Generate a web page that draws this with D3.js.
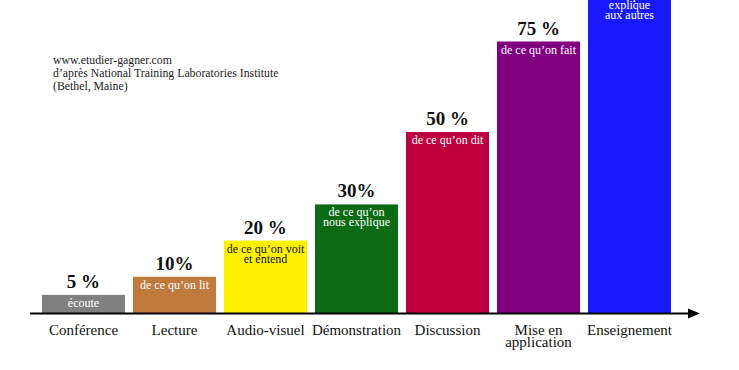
<!DOCTYPE html>
<html>
<head>
<meta charset="utf-8">
<script src="https://cdn.jsdelivr.net/npm/d3@7"></script>
<style>
  body { margin: 0; background: #fff; }
  svg { display: block; font-family: "Liberation Serif", "Times New Roman", serif; }
</style>
</head>
<body>
<div id="chart-area"></div>
<script>
var categories = ["Conférence", "Lecture", "Audio-visuel", "Démonstration", "Discussion", "Mise en\napplication", "Enseignement"];
var values = [5, 10, 20, 30, 50, 75, 90];
var valueLabels = ["5 %", "10%", "20 %", "30%", "50 %", "75 %", "90 %"];
var innerLabels = [
  ["écoute"],
  ["de ce qu’on lit"],
  ["de ce qu’on voit", "et entend"],
  ["de ce qu’on", "nous explique"],
  ["de ce qu’on dit"],
  ["de ce qu’on fait"],
  ["de ce qu’on", "explique", "aux autres"]
];
var colors = ["#808080", "#c07a3e", "#fff200", "#0b6b14", "#bf003f", "#800080", "#1919ff"];
var innerColors = ["#fff", "#fff", "#111", "#fff", "#fff", "#fff", "#fff"];
var sourceLines = ["www.etudier-gagner.com", "d’après National Training Laboratories Institute", "(Bethel, Maine)"];

var svgWidth = 739, svgHeight = 370, baseY = 313;

var svg = d3.select("#chart-area")
            .append("svg")
            .attr("width", svgWidth)
            .attr("height", svgHeight);

var x = d3.scaleBand()
          .domain(categories)
          .range([42, 671])
          .paddingInner(0.088)
          .paddingOuter(0);

var y = d3.scaleLinear()
          .domain([0, 100])
          .range([baseY, baseY - 362]);

var data = categories.map(function(c, i) {
  return { cat: c, value: values[i], label: valueLabels[i], inner: innerLabels[i], color: colors[i], textColor: innerColors[i] };
});

// bars
svg.selectAll("rect.bar")
   .data(data)
   .enter().append("rect")
   .attr("class", "bar")
   .attr("x", function(d) { return x(d.cat); })
   .attr("y", function(d) { return y(d.value); })
   .attr("width", x.bandwidth())
   .attr("height", function(d) { return baseY - y(d.value); })
   .attr("fill", function(d) { return d.color; });

// percent labels
svg.selectAll("text.value")
   .data(data)
   .enter().append("text")
   .attr("class", "value")
   .attr("x", function(d) { return x(d.cat) + x.bandwidth() / 2; })
   .attr("y", function(d) { return y(d.value) - 7; })
   .attr("text-anchor", "middle")
   .attr("font-size", "19px")
   .attr("font-weight", "bold")
   .attr("fill", "#111")
   .text(function(d) { return d.label; });

// labels inside bars
var inner = svg.selectAll("text.inner")
   .data(data)
   .enter().append("text")
   .attr("class", "inner")
   .attr("text-anchor", "middle")
   .attr("font-size", "12px")
   .attr("fill", function(d) { return d.textColor; });

inner.selectAll("tspan")
     .data(function(d) {
       return d.inner.map(function(t, j) { return { d: d, t: t, j: j }; });
     })
     .enter().append("tspan")
     .attr("x", function(e) { return x(e.d.cat) + x.bandwidth() / 2; })
     .attr("y", function(e) { return y(e.d.value) + 12 + e.j * 10; })
     .text(function(e) { return e.t; });

// x axis
var xAxisGroup = svg.append("g")
                    .attr("transform", "translate(0," + baseY + ")")
                    .call(d3.axisBottom(x).tickSize(0).tickPadding(0));

xAxisGroup.select(".domain").remove();

xAxisGroup.selectAll(".tick text")
          .attr("font-family", "Liberation Serif, serif")
          .attr("font-size", "15px")
          .attr("fill", "#111")
          .attr("dy", null)
          .attr("y", 22)
          .each(function(d) {
            var lines = d.split("\n");
            var t = d3.select(this).text(null);
            lines.forEach(function(l, j) {
              t.append("tspan").attr("x", 0).attr("y", 22 + j * 12).text(l);
            });
          });

svg.append("line")
   .attr("x1", 30)
   .attr("x2", 690)
   .attr("y1", baseY + 0.5)
   .attr("y2", baseY + 0.5)
   .attr("stroke", "#000")
   .attr("stroke-width", 2);

svg.append("path")
   .attr("d", "M688," + (baseY - 4.5) + "L700," + (baseY + 0.5) + "L688," + (baseY + 5.5) + "Z")
   .attr("fill", "#000");

// source note
svg.append("text")
   .attr("font-size", "11.8px")
   .attr("fill", "#222")
   .selectAll("tspan")
   .data(sourceLines)
   .enter().append("tspan")
   .attr("x", 53)
   .attr("y", function(d, i) { return 64 + i * 13; })
   .text(function(d) { return d; });
</script>
</body>
</html>
